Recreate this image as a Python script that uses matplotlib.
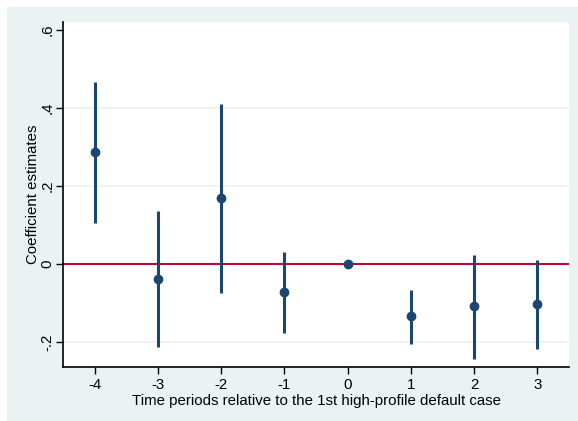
import matplotlib.pyplot as plt
from matplotlib.patches import Rectangle

plt.rcParams['font.family'] = ['Liberation Sans', 'DejaVu Sans']

periods = [-4, -3, -2, -1, 0, 1, 2, 3]
coef = [0.287, -0.038, 0.168, -0.072, 0.0, -0.133, -0.108, -0.103]
ci_low = [0.106, -0.212, -0.074, -0.177, 0.0, -0.205, -0.243, -0.219]
ci_high = [0.467, 0.136, 0.410, 0.031, 0.0, -0.067, 0.023, 0.010]
yticks = [-0.2, 0, 0.2, 0.4, 0.6]
ytick_labels = ['-.2', '0', '.2', '.4', '.6']

navy = '#1A476F'
bg = '#EAF2F3'

fig = plt.figure(figsize=(5.78, 4.21), dpi=100)
fig.patch.set_facecolor('white')
# outer stata-like panel, kept behind the axes
fig.add_artist(Rectangle((7 / 578, 0), 1 - 7 / 578, 1 - 7 / 421,
                         transform=fig.transFigure, facecolor=bg,
                         edgecolor='none', zorder=-10))

ax = fig.add_axes([63 / 578, 1 - 367 / 421, (569 - 63) / 578, (367 - 22) / 421])
ax.set_facecolor('white')

for y in [-0.2, 0.2, 0.4]:
    ax.axhline(y, color=bg, lw=1.2, zorder=0)
ax.axhline(0, color='#C10534', lw=1.5, zorder=1)

ax.vlines(periods, ci_low, ci_high, color=navy, lw=2.2, zorder=2)
ax.plot(periods, coef, 'o', color=navy, ms=6, zorder=3)

ax.set_xlim(-4.5, 3.5)
ax.set_ylim(-0.264, 0.62)
ax.set_xticks(periods)
ax.set_xticklabels([str(p) for p in periods], fontsize=10.8)
ax.set_yticks(yticks)
ax.set_yticklabels(ytick_labels, fontsize=10.8, rotation=90, va='center')

for s in ['top', 'right']:
    ax.spines[s].set_visible(False)
for s in ['left', 'bottom']:
    ax.spines[s].set_linewidth(1.2)
ax.tick_params(direction='out', length=5, width=1, pad=3)
ax.tick_params(axis='y', pad=1)

ax.set_xlabel('Time periods relative to the 1st high-profile default case',
              fontsize=10.8, labelpad=1)
ax.set_ylabel('Coefficient estimates', fontsize=10.8)
ax.yaxis.set_label_coords(-0.045, 0.5)

fig.savefig('out.png', dpi=100)
